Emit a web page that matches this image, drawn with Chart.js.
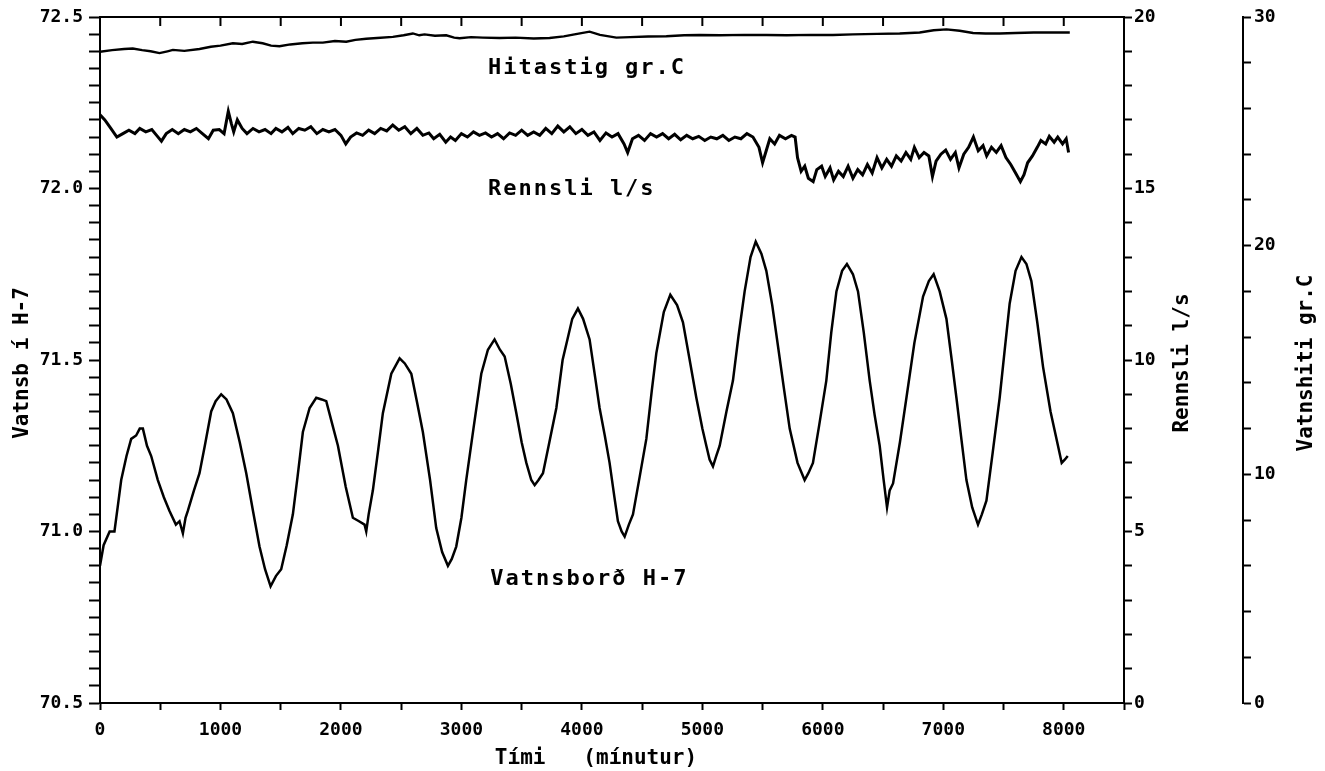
<!DOCTYPE html>
<html>
<head>
<meta charset="utf-8">
<script src="https://cdn.jsdelivr.net/npm/chart.js@4.4.1/dist/chart.umd.min.js"></script>
<style>
  body { margin: 0; background: #fff; }
  #wrap { width: 1325px; height: 771px; }
</style>
</head>
<body>
<div id="wrap"><canvas id="myChart"></canvas></div>
<script>
// Vatnsborð H-7 (left axis, m)
const levelTime = [0, 30, 80, 120, 150, 176, 220, 259, 300, 330, 356, 390, 425, 480, 530, 577, 630, 660, 688, 710,
  729, 780, 826, 870, 923, 960, 1006, 1050, 1103, 1160, 1214, 1270, 1324, 1370, 1416, 1460, 1504, 1550, 1601, 1640,
  1684, 1740, 1795, 1840, 1878, 1930, 1975, 2040, 2099, 2150, 2196, 2210, 2230, 2265, 2310, 2348, 2418, 2487, 2530, 2584,
  2630, 2680, 2740, 2791, 2840, 2888, 2920, 2957, 3000, 3040, 3100, 3165, 3220, 3275, 3320, 3359, 3410, 3456, 3500, 3539,
  3580, 3608, 3640, 3677, 3730, 3788, 3840, 3880, 3920, 3967, 4010, 4064, 4110, 4147, 4190, 4230, 4270, 4299, 4330, 4355,
  4390, 4424, 4480, 4535, 4580, 4618, 4680, 4734, 4790, 4839, 4900, 4950, 5000, 5033, 5060, 5088, 5115, 5144, 5200, 5254,
  5300, 5351, 5400, 5443, 5490, 5531, 5580, 5628, 5680, 5725, 5790, 5849, 5880, 5918, 5970, 6029, 6070, 6113, 6160, 6200,
  6250, 6292, 6340, 6389, 6430, 6472, 6505, 6533, 6555, 6583, 6640, 6694, 6760, 6832, 6880, 6920, 6970, 7026, 7070, 7109,
  7150, 7192, 7240, 7288, 7320, 7358, 7410, 7468, 7510, 7551, 7600, 7649, 7690, 7731, 7780, 7828, 7890, 7952, 7983, 8010, 8033];
const levelValue = [70.90, 70.96, 71.00, 71.00, 71.08, 71.15, 71.22, 71.27, 71.28, 71.30, 71.30, 71.25, 71.22, 71.15, 71.10, 71.06, 71.02, 71.03, 70.995, 71.04,
  71.06, 71.12, 71.17, 71.25, 71.35, 71.38, 71.40, 71.385, 71.345, 71.26, 71.17, 71.06, 70.956, 70.89, 70.84, 70.87, 70.89, 70.96, 71.05, 71.16,
  71.29, 71.36, 71.39, 71.385, 71.38, 71.31, 71.25, 71.13, 71.04, 71.03, 71.02, 71.00, 71.05, 71.12, 71.24, 71.345, 71.46, 71.505, 71.49, 71.46,
  71.38, 71.29, 71.15, 71.01, 70.94, 70.90, 70.92, 70.956, 71.04, 71.15, 71.30, 71.46, 71.53, 71.56, 71.53, 71.51, 71.43, 71.345, 71.26, 71.20,
  71.15, 71.135, 71.15, 71.17, 71.26, 71.36, 71.50, 71.56, 71.62, 71.65, 71.62, 71.56, 71.45, 71.36, 71.28, 71.20, 71.10, 71.03, 71.00, 70.985,
  71.02, 71.05, 71.16, 71.27, 71.41, 71.52, 71.64, 71.69, 71.66, 71.61, 71.49, 71.39, 71.30, 71.25, 71.21, 71.19, 71.22, 71.25, 71.35, 71.44,
  71.57, 71.70, 71.80, 71.845, 71.81, 71.76, 71.66, 71.54, 71.41, 71.30, 71.20, 71.15, 71.17, 71.20, 71.31, 71.44, 71.58, 71.70, 71.76, 71.78,
  71.75, 71.70, 71.58, 71.44, 71.34, 71.25, 71.15, 71.07, 71.12, 71.14, 71.26, 71.39, 71.55, 71.685, 71.73, 71.75, 71.70, 71.62, 71.50, 71.39,
  71.27, 71.15, 71.07, 71.02, 71.05, 71.09, 71.23, 71.39, 71.53, 71.665, 71.76, 71.80, 71.78, 71.73, 71.61, 71.48, 71.35, 71.25, 71.20, 71.21, 71.22];

// Rennsli l/s (first right axis)
const flowTime = [0, 40, 90, 140, 190, 240, 290, 330, 380, 430, 470, 510, 550, 600, 650, 700, 750, 800, 850, 900,
  940, 990, 1030, 1065, 1090, 1110, 1140, 1180, 1220, 1270, 1320, 1370, 1420, 1460, 1510, 1560, 1600, 1650, 1700, 1750,
  1800, 1850, 1900, 1950, 2000, 2040, 2080, 2130, 2180, 2230, 2280, 2330, 2380, 2430, 2480, 2530, 2580, 2630, 2680, 2730,
  2770, 2820, 2870, 2910, 2950, 3000, 3050, 3100, 3150, 3200, 3250, 3300, 3350, 3400, 3450, 3500, 3550, 3600, 3650, 3700,
  3750, 3800, 3850, 3900, 3950, 4000, 4050, 4100, 4150, 4200, 4250, 4300, 4350, 4380, 4420, 4470, 4520, 4570, 4620, 4670,
  4720, 4770, 4820, 4870, 4920, 4970, 5020, 5070, 5120, 5170, 5220, 5270, 5320, 5370, 5420, 5470, 5500, 5530, 5560, 5600,
  5640, 5690, 5740, 5770, 5790, 5820, 5850, 5880, 5920, 5950, 5990, 6020, 6060, 6090, 6130, 6170, 6210, 6250, 6290, 6330,
  6370, 6410, 6450, 6490, 6530, 6570, 6610, 6650, 6690, 6730, 6760, 6800, 6840, 6880, 6910, 6940, 6980, 7020, 7060, 7100,
  7130, 7170, 7210, 7250, 7290, 7330, 7360, 7400, 7440, 7480, 7520, 7560, 7600, 7640, 7670, 7700, 7740, 7780, 7810, 7850,
  7880, 7920, 7950, 7990, 8020, 8040];
const flowValue = [17.15, 17.0, 16.75, 16.5, 16.6, 16.7, 16.6, 16.75, 16.65, 16.72, 16.55, 16.38, 16.6, 16.72, 16.6, 16.72, 16.65, 16.75, 16.6, 16.45,
  16.7, 16.72, 16.6, 17.25, 16.9, 16.65, 17.0, 16.75, 16.6, 16.75, 16.65, 16.72, 16.6, 16.75, 16.65, 16.78, 16.6, 16.75, 16.7, 16.8,
  16.6, 16.72, 16.65, 16.72, 16.55, 16.3, 16.5, 16.62, 16.55, 16.7, 16.6, 16.75, 16.68, 16.85, 16.7, 16.8, 16.6, 16.75, 16.55, 16.62,
  16.45, 16.58, 16.35, 16.5, 16.4, 16.6, 16.5, 16.65, 16.55, 16.62, 16.5, 16.6, 16.45, 16.62, 16.55, 16.7, 16.55, 16.65, 16.55, 16.75,
  16.6, 16.82, 16.65, 16.8, 16.6, 16.72, 16.55, 16.65, 16.4, 16.62, 16.5, 16.6, 16.3, 16.05, 16.45, 16.55, 16.4, 16.6, 16.5, 16.6,
  16.45, 16.58, 16.42, 16.55, 16.45, 16.52, 16.4, 16.5, 16.45, 16.55, 16.4, 16.5, 16.45, 16.6, 16.5, 16.2, 15.75, 16.1, 16.45, 16.3,
  16.55, 16.45, 16.55, 16.5, 15.9, 15.5, 15.65, 15.3, 15.2, 15.55, 15.65, 15.35, 15.6, 15.25, 15.5, 15.35, 15.65, 15.3, 15.55, 15.4,
  15.7, 15.45, 15.9, 15.6, 15.85, 15.65, 15.95, 15.8, 16.05, 15.85, 16.2, 15.9, 16.05, 15.95, 15.35, 15.8, 16.0, 16.12, 15.85, 16.05,
  15.6, 16.0, 16.2, 16.5, 16.1, 16.25, 15.95, 16.2, 16.05, 16.25, 15.9, 15.7, 15.45, 15.2, 15.4, 15.75, 15.95, 16.2, 16.4, 16.3,
  16.52, 16.35, 16.5, 16.3, 16.45, 16.05];

// Hitastig gr.C (second right axis)
const tempTime = [0, 100, 200, 272, 350, 420, 494, 560, 605, 700, 826, 920, 1000, 1103, 1180, 1269, 1350, 1420, 1490, 1580,
  1680, 1767, 1850, 1950, 2044, 2120, 2210, 2300, 2431, 2520, 2597, 2650, 2694, 2780, 2874, 2940, 2985, 3080, 3178, 3317,
  3450, 3600, 3732, 3850, 3950, 4064, 4150, 4286, 4400, 4550, 4701, 4850, 4978, 5150, 5350, 5531, 5700, 5900, 6084, 6250,
  6450, 6638, 6804, 6920, 7026, 7136, 7247, 7350, 7468, 7600, 7750, 7900, 8050];
const tempValue = [28.48, 28.55, 28.6, 28.62, 28.55, 28.5, 28.42, 28.5, 28.56, 28.52, 28.6, 28.7, 28.75, 28.85, 28.82, 28.92, 28.85, 28.75, 28.72, 28.8,
  28.85, 28.88, 28.88, 28.95, 28.92, 29.0, 29.05, 29.08, 29.13, 29.2, 29.28, 29.2, 29.24, 29.18, 29.2, 29.1, 29.07, 29.12, 29.1, 29.08,
  29.1, 29.06, 29.08, 29.15, 29.25, 29.36, 29.22, 29.1, 29.12, 29.15, 29.16, 29.2, 29.21, 29.2, 29.22, 29.21, 29.2, 29.22, 29.21, 29.24,
  29.26, 29.28, 29.32, 29.42, 29.46, 29.4, 29.3, 29.28, 29.28, 29.3, 29.32, 29.32, 29.32];

// tick labels
const xLabels = [0, 1000, 2000, 3000, 4000, 5000, 6000, 7000, 8000];
const levelLabels = [70.5, 71.0, 71.5, 72.0, 72.5];
const flowLabels = [0, 5, 10, 15, 20];
const tempLabels = [0, 10, 20, 30];

const pairs = (xs, ys) => xs.map((x, i) => ({ x: x, y: ys[i] }));
const hasLabel = (list, v) => list.some(l => Math.abs(l - v) < 1e-6);

const tickFont = { family: "DejaVu Sans Mono", size: 18, weight: "bold" };
const titleFont = "bold 21px 'DejaVu Sans Mono'";
const noteFont = "bold 22px 'DejaVu Sans Mono'";

// top frame line with inward ticks, axis titles and curve names
const extras = {
  id: "extras",
  afterDraw(chart) {
    const { ctx, chartArea: a, scales } = chart;
    ctx.save();
    ctx.strokeStyle = "#000";
    ctx.lineWidth = 2;
    ctx.beginPath();
    ctx.moveTo(a.left, a.top);
    ctx.lineTo(a.right, a.top);
    scales.x.ticks.forEach(t => {
      const px = scales.x.getPixelForValue(t.value);
      ctx.moveTo(px, a.top);
      ctx.lineTo(px, a.top + 9);
    });
    ctx.stroke();

    ctx.fillStyle = "#000";
    ctx.font = titleFont;
    ctx.textAlign = "center";
    ctx.textBaseline = "alphabetic";
    ctx.fillText("Tími   (mínutur)", (a.left + a.right) / 2 - 16, 764);

    const midY = (a.top + a.bottom) / 2 + 3;
    const vtext = (txt, x) => {
      ctx.save();
      ctx.translate(x, midY);
      ctx.rotate(-Math.PI / 2);
      ctx.fillText(txt, 0, 0);
      ctx.restore();
    };
    vtext("Vatnsb í H-7", 28);
    vtext("Rennsli l/s", scales.yR.left + 64);
    vtext("Vatnshiti gr.C", scales.yT.left + 69);

    ctx.font = noteFont;
    ctx.textAlign = "left";
    ctx.letterSpacing = "2px";
    const note = (txt, t, v) =>
      ctx.fillText(txt, scales.x.getPixelForValue(t), scales.y.getPixelForValue(v));
    note("Hitastig gr.C", 3220, 72.335);
    note("Rennsli l/s", 3220, 71.98);
    note("Vatnsborð H-7", 3240, 70.845);
    ctx.restore();
  },
};

const lineStyle = {
  borderColor: "#000",
  borderWidth: 2.5,
  pointRadius: 0,
  tension: 0,
  fill: false,
};

const axisGrid = (len) => ({
  drawOnChartArea: false,
  drawTicks: true,
  tickLength: len,
  tickWidth: 2,
  color: "#000",
});
const axisBorder = { display: true, color: "#000", width: 2 };

const config = {
  type: "line",
  data: {
    datasets: [
      { label: "Vatnsborð H-7", data: pairs(levelTime, levelValue), yAxisID: "y", ...lineStyle },
      { label: "Rennsli l/s", data: pairs(flowTime, flowValue), yAxisID: "yR", ...lineStyle, borderWidth: 3 },
      { label: "Hitastig gr.C", data: pairs(tempTime, tempValue), yAxisID: "yT", ...lineStyle, borderWidth: 2.4 },
    ],
  },
  options: {
    responsive: true,
    maintainAspectRatio: false,
    animation: false,
    layout: { padding: { top: 17, left: 0, right: 0, bottom: 0 } },
    plugins: { legend: false, tooltip: { enabled: false } },
    scales: {
      x: {
        type: "linear",
        position: "bottom",
        min: 0,
        max: 8500,
        afterFit: s => { s.height = 68; },
        grid: axisGrid(7),
        border: axisBorder,
        ticks: {
          stepSize: 500,
          autoSkip: false,
          maxRotation: 0,
          padding: 10,
          color: "#000",
          font: tickFont,
          callback: v => (hasLabel(xLabels, v) ? String(v) : ""),
        },
      },
      y: {
        position: "left",
        min: 70.5,
        max: 72.5,
        afterFit: s => { s.width = 100; },
        grid: axisGrid(11),
        border: axisBorder,
        ticks: {
          stepSize: 0.05,
          maxTicksLimit: 1000,
          autoSkip: false,
          padding: 6,
          color: "#000",
          font: tickFont,
          callback: v => (hasLabel(levelLabels, v) ? v.toFixed(1) : ""),
        },
      },
      yR: {
        position: "right",
        weight: 0,
        min: 0,
        max: 20,
        afterFit: s => { s.width = 119; },
        grid: axisGrid(8),
        border: axisBorder,
        ticks: {
          stepSize: 1,
          maxTicksLimit: 1000,
          autoSkip: false,
          padding: 2,
          color: "#000",
          font: tickFont,
          callback: v => (hasLabel(flowLabels, v) ? String(v) : ""),
        },
      },
      yT: {
        position: "right",
        weight: 1,
        min: 0,
        max: 30,
        afterFit: s => { s.width = 82; },
        grid: axisGrid(8),
        border: axisBorder,
        ticks: {
          stepSize: 2,
          maxTicksLimit: 1000,
          autoSkip: false,
          padding: 3,
          color: "#000",
          font: tickFont,
          callback: v => (hasLabel(tempLabels, v) ? String(v) : ""),
        },
      },
    },
  },
  plugins: [extras],
};

let myChart;
const cntx = document.getElementById("myChart").getContext("2d");
if (myChart) myChart.destroy();
myChart = new Chart(cntx, config);
</script>
</body>
</html>
